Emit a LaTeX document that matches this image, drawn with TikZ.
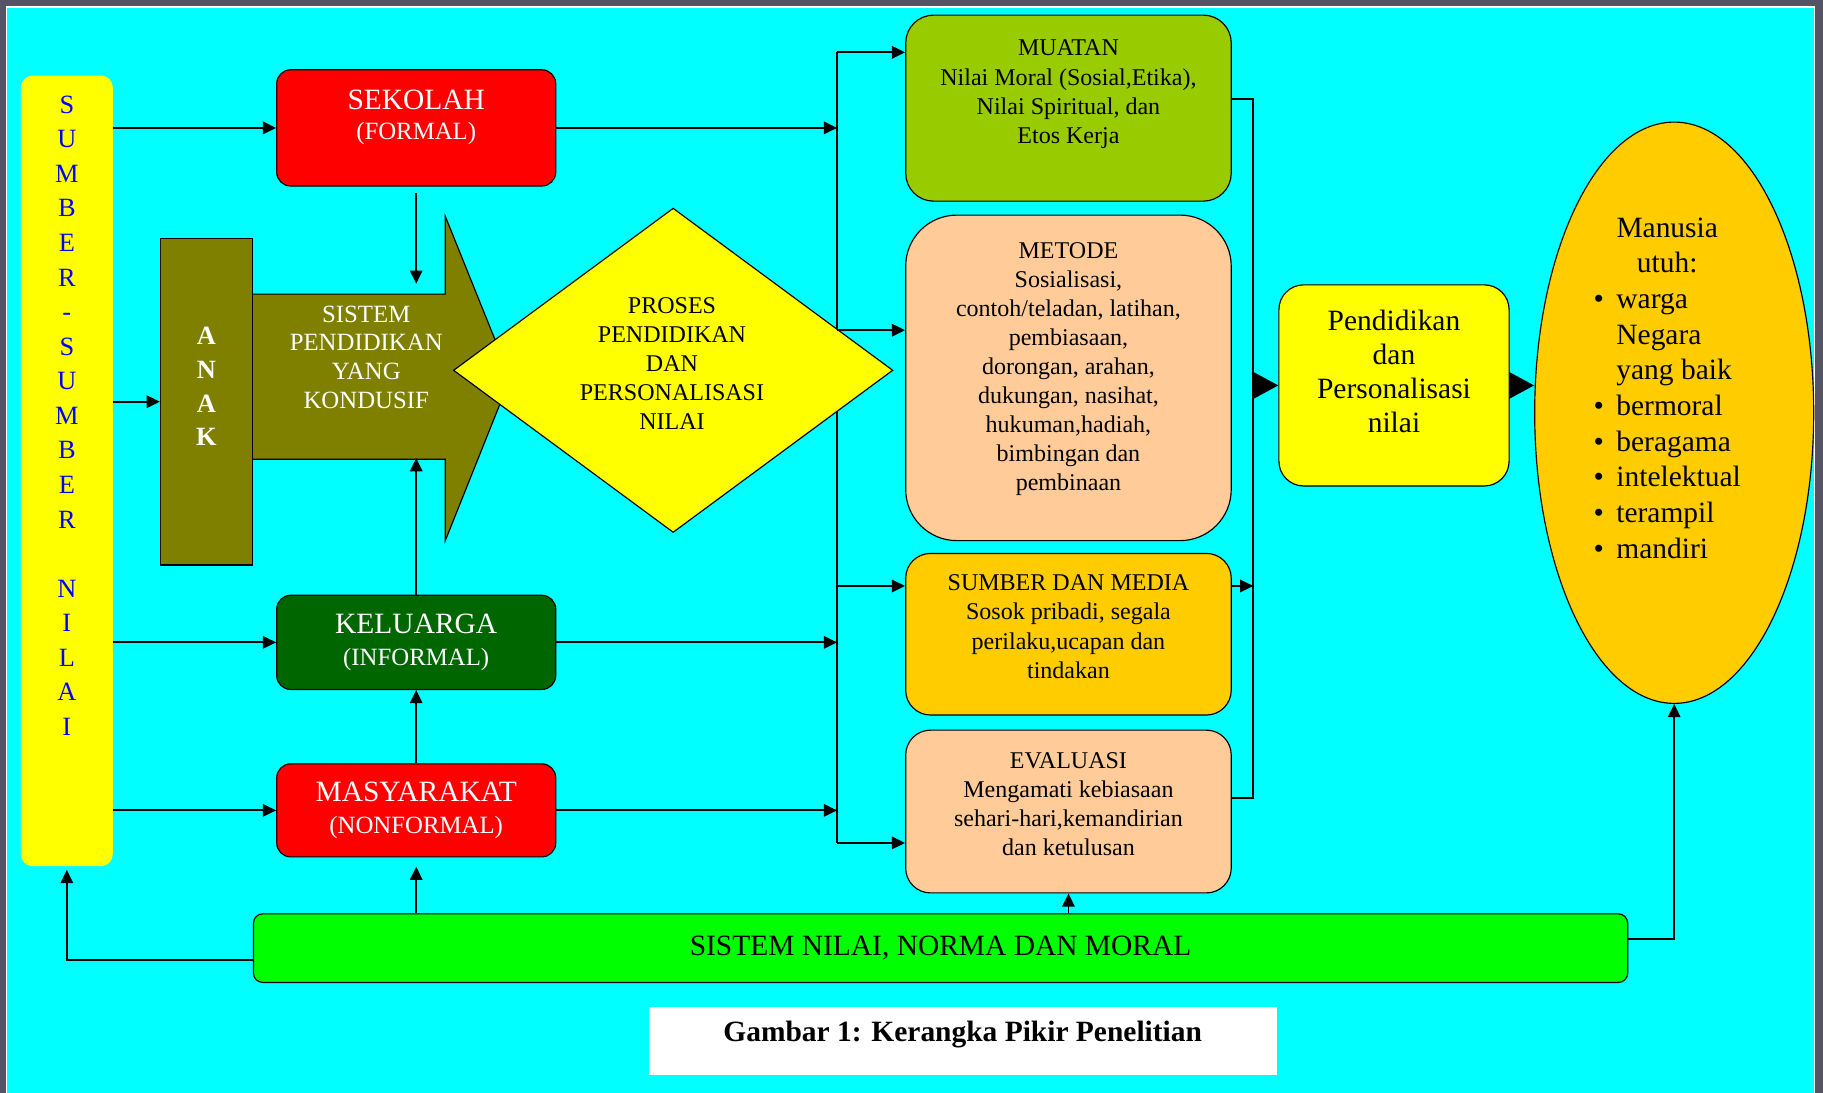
\documentclass[tikz,border=0pt]{standalone}
\usepackage{fontspec}
\setmainfont{Liberation Serif}
\usetikzlibrary{shapes.geometric,arrows.meta,calc}

\definecolor{latar}{RGB}{0,255,255}
\definecolor{bingkai}{RGB}{84,84,100}
\definecolor{kuning}{RGB}{255,255,0}
\definecolor{merah}{RGB}{255,0,0}
\definecolor{zaitun}{RGB}{128,128,0}
\definecolor{hijautua}{RGB}{0,102,0}
\definecolor{hijau}{RGB}{0,255,0}
\definecolor{hijaumuda}{RGB}{153,204,0}
\definecolor{persik}{RGB}{255,204,153}
\definecolor{emas}{RGB}{255,204,0}
\definecolor{biru}{RGB}{0,0,255}

\newcommand{\hurufbesar}{\fontsize{19}{20}\selectfont}

\tikzset{every picture/.style={line width=0.75pt}}
\tikzset{
  kotak/.style={draw=black, inner sep=0pt},
  teks/.style={align=center, inner sep=0pt, font=\fontsize{15.5}{18.75}\selectfont},
  teksputih/.style={align=center, inner sep=0pt, text=white, font=\fontsize{16}{20}\selectfont},
  panah/.style={line width=1.2pt, -{Triangle[length=8.5pt,width=8pt]}},
  panahbesar/.style={line width=1.2pt, -{Triangle[length=16pt,width=17pt]}},
  garis/.style={line width=1.2pt},
}

\begin{document}
\begin{tikzpicture}[x=0.75pt,y=0.75pt,yscale=-1,xscale=1]
\useasboundingbox (0,0) rectangle (1568,940);

% latar dan bingkai
\fill[bingkai] (0,0) rectangle (1568,940);
\fill[white] (5,5) rectangle (1561,940);
\fill[latar] (6,6.5) rectangle (1560,940);

% titik bantu jalur
\coordinate (bus1) at (720,45);
\coordinate (bus2) at (720,284);
\coordinate (bus3) at (720,504);
\coordinate (bus4) at (720,725);
\coordinate (kanan1) at (1078,85);
\coordinate (kanan3) at (1078,504);
\coordinate (kanan2) at (1078,686);
\coordinate (sistematas) at (358,244);
\coordinate (sistembawah) at (358,394);

% jalur pembagi
\draw[garis] (bus1) -- (bus4);

% sumber-sumber nilai
\node[fill=kuning, rounded corners=7.5pt, minimum width=59.25pt, minimum height=510pt] (sumber) at (57.5,405) {};
\node[align=center, inner sep=0pt, text=biru, font=\fontsize{17}{22.3}\selectfont] (sumberteks) at (57.5,357.5) {S\\U\\M\\B\\E\\R\\-\\S\\U\\M\\B\\E\\R\\~\\N\\I\\L\\A\\I};

% panah sistem pendidikan
\draw[fill=zaitun] (217,253) -- (383,253) -- (383,186) -- (439,325) -- (383,465) -- (383,395) -- (217,395) -- cycle;
\node[teksputih, font=\fontsize{16}{18.5}\selectfont] (sistemteks) at (315,307) {SISTEM\\PENDIDIKAN\\YANG\\KONDUSIF};

% anak
\node[kotak, fill=zaitun, minimum width=59.25pt, minimum height=210.75pt] (anak) at (177.5,345.5) {};
\node[align=center, inner sep=0pt, text=white, font=\fontsize{17}{21.75}\selectfont\bfseries] (anakteks) at (177.5,332.5) {A\\N\\A\\K};

% proses
\node[kotak, diamond, fill=kuning, minimum width=283.5pt, minimum height=209.25pt] (proses) at (579,318.5) {};
\node[teks] (prosesteks) at (578,312.5) {PROSES\\PENDIDIKAN\\DAN\\PERSONALISASI\\NILAI};

% lingkungan pendidikan
\node[kotak, fill=merah, rounded corners=9pt, minimum width=180pt, minimum height=75pt] (sekolah) at (358,110) {};
\node[teksputih, font=\fontsize{16}{19.5}\selectfont] (sekolahteks) at (358,101) {{\hurufbesar SEKOLAH}\\(FORMAL)};
\node[kotak, teksputih, fill=hijautua, rounded corners=9pt, minimum width=180pt, minimum height=60.75pt, font=\fontsize{16}{21}\selectfont] (keluarga) at (358,552.5) {{\hurufbesar KELUARGA}\\(INFORMAL)};
\node[kotak, teksputih, fill=merah, rounded corners=9pt, minimum width=180pt, minimum height=60pt, font=\fontsize{16}{21}\selectfont] (masyarakat) at (358,697) {{\hurufbesar MASYARAKAT}\\(NONFORMAL)};

% komponen
\node[kotak, fill=hijaumuda, rounded corners=18pt, minimum width=210pt, minimum height=120pt] (muatan) at (919,93) {};
\node[teks] (muatanteks) at (919,81) {MUATAN\\Nilai Moral (Sosial,Etika),\\Nilai Spiritual, dan\\Etos Kerja};
\node[kotak, fill=persik, rounded corners=33pt, minimum width=210pt, minimum height=210pt] (metode) at (919,325) {};
\node[teks] (metodeteks) at (919,317.5) {METODE\\Sosialisasi,\\contoh/teladan, latihan,\\pembiasaan,\\dorongan, arahan,\\dukungan, nasihat,\\hukuman,hadiah,\\bimbingan dan\\pembinaan};
\node[kotak, fill=emas, rounded corners=16pt, minimum width=210pt, minimum height=104.25pt] (media) at (919,545.5) {};
\node[teks] (mediateks) at (919,539) {SUMBER DAN MEDIA\\Sosok pribadi, segala\\perilaku,ucapan dan\\tindakan};
\node[kotak, fill=persik, rounded corners=16pt, minimum width=210pt, minimum height=105pt] (evaluasi) at (919,698) {};
\node[teks] (evaluasiteks) at (919,691.5) {EVALUASI\\Mengamati kebiasaan\\sehari-hari,kemandirian\\dan ketulusan};

% hasil
\node[kotak, fill=kuning, rounded corners=16pt, minimum width=148.5pt, minimum height=129.75pt] (pendidikan) at (1199,331.5) {};
\node[align=center, inner sep=0pt, font=\fontsize{19}{22}\selectfont] (pendidikanteks) at (1199,319.5) {Pendidikan\\dan\\Personalisasi\\nilai};
\node[kotak, ellipse, fill=emas, minimum width=180pt, minimum height=375pt] (manusia) at (1440,355) {};
\node[inner sep=0pt, font=\fontsize{19}{23}\selectfont] (manusiateks) at (1434,336) {%
  \begin{tabular}{@{}l@{\hspace{8pt}}l@{}}
    \multicolumn{2}{c}{Manusia}\\
    \multicolumn{2}{c}{utuh:}\\
    \textbullet & warga\\
     & Negara\\
     & yang baik\\
    \textbullet & bermoral\\
    \textbullet & beragama\\
    \textbullet & intelektual\\
    \textbullet & terampil\\
    \textbullet & mandiri
  \end{tabular}};

% sistem nilai dan keterangan
\node[kotak, fill=hijau, rounded corners=6pt, minimum width=886.5pt, minimum height=44.25pt, font=\fontsize{19}{22}\selectfont] (nilai) at (809,815.5) {SISTEM NILAI, NORMA DAN MORAL};
\node[fill=white, minimum width=405pt, minimum height=44.25pt] (keterangan) at (828,895.5) {};
\node[inner sep=0pt, font=\fontsize{19}{22}\selectfont\bfseries] (keteranganteks) at (828,890) {Gambar 1: Kerangka Pikir Penelitian};

% panah dari sumber nilai
\draw[panah] (sumber.east |- sekolah.west) -- (sekolah.west);
\draw[panah] (sumber.east |- anak.west) -- (anak.west);
\draw[panah] (sumber.east |- keluarga.west) -- (keluarga.west);
\draw[panah] (sumber.east |- masyarakat.west) -- (masyarakat.west);

% panah antar lingkungan
\draw[panah, shorten <=4pt] (sekolah.south) -- (sistematas);
\draw[panah] (keluarga.north) -- (sistembawah);
\draw[panah] (masyarakat.north) -- (keluarga.south);
\draw[panah, shorten >=6pt] (nilai.north -| masyarakat) -- (masyarakat.south);
\draw[panah, shorten >=2pt] ($(nilai.west)+(0,10)$) -| (sumber.south);
\draw[panah] (nilai.north -| evaluasi) -- (evaluasi.south);
\draw[panah] ($(nilai.east)+(0,-8)$) -| (manusia.south);

% panah ke jalur pembagi
\draw[panah] (sekolah.east) -- (sekolah.east -| bus1);
\draw[panah] (keluarga.east) -- (keluarga.east -| bus1);
\draw[panah] (masyarakat.east) -- (masyarakat.east -| bus1);
\draw[panah] (bus1) -- (bus1 -| muatan.west);
\draw[panah] (bus2) -- (bus2 -| metode.west);
\draw[panah] (bus3) -- (bus3 -| media.west);
\draw[panah] (bus4) -- (bus4 -| evaluasi.west);

% jalur kanan
\draw[garis] (muatan.east |- kanan1) -- (kanan1) -- (kanan2) -- (evaluasi.east |- kanan2);
\draw[panah] (media.east |- kanan3) -- (kanan3);
\draw[panahbesar] (pendidikan.west -| kanan1) -- (pendidikan.west);
\draw[panahbesar] (pendidikan.east) -- (pendidikan.east -| manusia.west);

\end{tikzpicture}
\end{document}
